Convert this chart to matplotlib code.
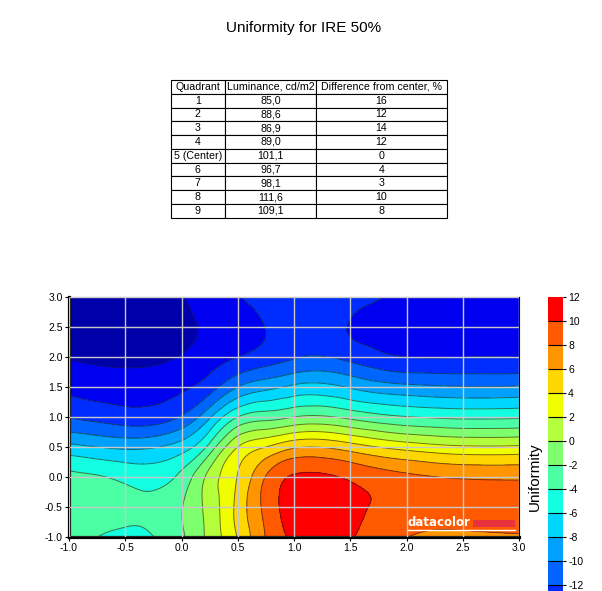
import numpy as np
import matplotlib
matplotlib.use("Agg")
import matplotlib.pyplot as plt
import matplotlib.tri as mtri
from matplotlib.colors import ListedColormap, BoundaryNorm
from matplotlib.cm import ScalarMappable

plt.rcParams['font.family'] = ['Liberation Sans', 'DejaVu Sans']
plt.rcParams['axes.unicode_minus'] = False

# table data
quadrants = ['1', '2', '3', '4', '5 (Center)', '6', '7', '8', '9']
luminance = ['85,0', '88,6', '86,9', '89,0', '101,1', '96,7', '98,1', '111,6', '109,1']
diff_center = ['16', '12', '14', '12', '0', '4', '3', '10', '8']
headers = ['Quadrant', 'Luminance, cd/m2', 'Difference from center, %']

# uniformity surface (rows: y = -1 .. 3, cols: x values)
x_vals = [-1.0, -0.5, 0.0, 0.25, 0.5, 0.75, 1.0, 1.5, 2.0, 2.5, 3.0]
y_vals = [-1.0, -0.5, 0.0, 0.5, 1.0, 1.5, 2.0, 2.5, 3.0]
uniformity = [
    [-3.2, -4.5, -2.3, 0.6, 4.1, 8.1, 10.4, 10.2, 8.05, 7.7, 7.9],
    [-3.0, -3.4, -2.1, 0.8, 4.6, 8.6, 11.0, 10.7, 9.1, 8.9, 8.7],
    [-3.5, -4.5, -3.4, 0.7, 4.1, 8.1, 10.2, 9.7, 8.4, 7.8, 7.7],
    [-7.4, -8.4, -7.0, -3.3, 2.0, 4.0, 5.7, 5.0, 3.2, 2.3, 2.35],
    [-12.1, -13.1, -11.8, -8.3, -4.0, -2.8, -2.0, -2.5, -3.9, -4.4, -4.3],
    [-14.5, -15.0, -14.3, -12.9, -10.0, -8.6, -7.6, -8.2, -9.5, -9.9, -9.8],
    [-16.1, -16.6, -15.85, -14.9, -14.0, -13.1, -12.2, -12.6, -14.0, -14.02, -14.02],
    [-16.9, -17.5, -16.5, -15.6, -14.8, -13.95, -13.1, -14.1, -14.6, -15.0, -15.0],
    [-17.0, -17.3, -16.1, -15.1, -14.1, -13.5, -12.9, -13.4, -14.2, -14.8, -14.9],
]

levels = list(range(-18, 13, 2))
band_colors = ['#0000AA', '#0000F0', '#002DFF', '#0064FF', '#00A0FF', '#00D7FF',
               '#14FFE1', '#4BFFA5', '#7DFF6E', '#B4FF3C', '#F0FF00', '#FFD700',
               '#FF9600', '#FF5A00', '#FF0000']
cmap = ListedColormap(band_colors)
norm = BoundaryNorm(levels, cmap.N)

fig = plt.figure(figsize=(6.02, 5.91), dpi=100)

# title
fig.text(0.504, 0.9526, 'Uniformity for IRE 50%', ha='center', va='center', fontsize=11)

# table
ax_t = fig.add_axes([0.2836, 0.6316, 0.459, 0.233])
ax_t.axis('off')
cells = [[q, l, d] for q, l, d in zip(quadrants, luminance, diff_center)]
tbl = ax_t.table(cellText=cells, colLabels=headers, cellLoc='center',
                 colWidths=[0.1965, 0.329, 0.4745], bbox=[0, 0, 1, 1])
tbl.auto_set_font_size(False)
tbl.set_fontsize(7.7)
for cell in tbl.get_celld().values():
    cell.set_linewidth(0.8)
    cell.PAD = 0.02

# contour plot
ax = fig.add_axes([69 / 602, 1 - 537 / 591, 450 / 602, 240 / 591])
X, Y = np.meshgrid(x_vals, y_vals)
Z = np.array(uniformity)
nx, ny = len(x_vals), len(y_vals)
triangles = []
for j in range(ny - 1):
    for i in range(nx - 1):
        a = j * nx + i
        triangles.append([a, a + 1, a + nx + 1])
        triangles.append([a, a + nx + 1, a + nx])
tri = mtri.Triangulation(X.ravel(), Y.ravel(), triangles)
interp = mtri.CubicTriInterpolator(tri, Z.ravel(), kind='min_E')
refiner = mtri.UniformTriRefiner(tri)
tri_f, z_f = refiner.refine_field(Z.ravel(), triinterpolator=interp, subdiv=4)
z_f = np.clip(z_f, -17.99, 11.99)

ax.tricontourf(tri_f, z_f, levels=levels, cmap=cmap, norm=norm)
ax.tricontour(tri_f, z_f, levels=levels, colors='#1a1a1a', linewidths=0.7,
              linestyles='solid', alpha=0.6)

ax.set_xlim(-1, 3)
ax.set_ylim(-1, 3)
ticks = np.arange(-1.0, 3.01, 0.5)
ax.set_xticks(ticks)
ax.set_yticks(ticks)
ax.set_xticklabels(['%.1f' % t for t in ticks])
ax.set_yticklabels(['%.1f' % t for t in ticks])
ax.tick_params(labelsize=7.5, length=3, width=0.8, pad=1.5)
ax.grid(True, color='#c8c8c8', linewidth=1)
ax.set_axisbelow(False)
for side in ['left', 'bottom']:
    ax.spines[side].set_linewidth(2.3)
for side in ['top', 'right']:
    ax.spines[side].set_linewidth(0.8)

# watermark
ax.text(0.753, 0.045, 'datacolor', transform=ax.transAxes, color='white',
        fontsize=8.5, fontweight='bold', family='DejaVu Sans', va='baseline', zorder=5)
ax.add_patch(plt.Rectangle((0.8976, 0.042), 0.0934, 0.03, transform=ax.transAxes,
                           facecolor='#E8323C', edgecolor='none', zorder=5))
ax.plot([0.753, 0.991], [0.029, 0.029], transform=ax.transAxes, color='white',
        linewidth=1, zorder=5)

# colorbar (runs past the bottom edge like the original)
cax = fig.add_axes([0.9098, -0.1117, 0.0249, 0.6086])
cbar = fig.colorbar(ScalarMappable(norm=norm, cmap=cmap), cax=cax,
                    ticks=levels, drawedges=True)
cbar.outline.set_visible(False)
cbar.dividers.set_color('black')
cbar.dividers.set_linewidth(0.8)
cax.tick_params(labelsize=7.5, length=2, width=0.8, pad=2)
cax.set_yticklabels([str(v) if v >= -12 else '' for v in levels])
cbar.set_label('Uniformity', fontsize=11)
cax.yaxis.set_label_position('left')

fig.savefig('out.png', dpi=100)
